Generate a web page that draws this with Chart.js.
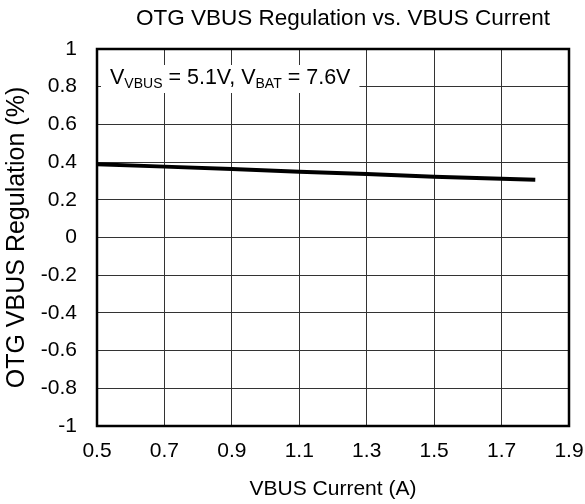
<!DOCTYPE html>
<html>
<head>
<meta charset="utf-8">
<script src="https://cdn.jsdelivr.net/npm/chart.js@4"></script>
<style>
html,body{margin:0;padding:0;background:#fff;}
#wrap{width:585px;height:504px;}
</style>
</head>
<body>
<div id="wrap"><canvas id="c" width="585" height="504"></canvas></div>
<script>
const currentA = [0.5, 0.7, 0.9, 1.1, 1.3, 1.5, 1.7, 1.8];
const regulationPct = [0.388, 0.376, 0.363, 0.349, 0.337, 0.322, 0.312, 0.307];
const xTickRange = [0.5, 1.9, 0.2];
const yTickRange = [-1, 1, 0.2];
const chartTitle = "OTG VBUS Regulation vs. VBUS Current";
const xTitle = "VBUS Current (A)";
const yTitle = "OTG VBUS Regulation (%)";
const noteParts = [["V", false], ["VBUS", true], [" = 5.1V, ", false], ["V", false], ["BAT", true], [" = 7.6V", false]];

const FONT = "'Liberation Sans', Arial, sans-serif";

const framePlugin = {
  id: 'frame',
  afterDatasetsDraw(chart) {
    const ctx = chart.ctx, a = chart.chartArea;
    ctx.save();
    // chart title
    ctx.font = "22.5px " + FONT;
    ctx.fillStyle = '#000';
    ctx.textAlign = 'center';
    ctx.textBaseline = 'middle';
    ctx.fillText(chartTitle, (a.left + a.right) / 2 + 10, a.top - 30);
    // annotation box
    ctx.textAlign = 'left';
    const mainF = 21.5, subF = 14;
    let w = 0;
    noteParts.forEach(([t, s]) => {
      ctx.font = (s ? subF : mainF) + "px " + FONT;
      w += ctx.measureText(t).width;
    });
    const bx = a.left + 4, by = a.top + 16, bh = 28, pad = 9;
    ctx.fillStyle = '#fff';
    ctx.fillRect(bx, by, w + pad * 2, bh);
    ctx.fillStyle = '#000';
    ctx.textBaseline = 'alphabetic';
    let x = bx + pad;
    const base = by + 19;
    noteParts.forEach(([t, s]) => {
      ctx.font = (s ? subF : mainF) + "px " + FONT;
      ctx.fillText(t, x, s ? base + 3.5 : base);
      x += ctx.measureText(t).width;
    });
    ctx.restore();
  },
  afterDraw(chart) {
    const ctx = chart.ctx, a = chart.chartArea;
    ctx.save();
    ctx.strokeStyle = '#000';
    ctx.lineWidth = 2.5;
    ctx.strokeRect(a.left, a.top, a.right - a.left, a.bottom - a.top);
    ctx.restore();
  }
};

const fmt = v => Number(Number(v).toFixed(1)).toString();

new Chart(document.getElementById('c'), {
  type: 'line',
  data: {
    datasets: [{
      data: currentA.map((x, i) => ({x: x, y: regulationPct[i]})),
      borderColor: '#000',
      borderWidth: 4,
      pointRadius: 0,
      tension: 0,
      fill: false
    }]
  },
  options: {
    responsive: false,
    animation: false,
    layout: {padding: {left: 0, right: 16, top: 49, bottom: 0}},
    plugins: {
      legend: {display: false},
      tooltip: {enabled: false},
      title: {display: false}
    },
    scales: {
      x: {
        type: 'linear',
        min: xTickRange[0], max: xTickRange[1],
        afterFit(s) { s.height = 78; s.paddingRight = 0; s.paddingLeft = 0; },
        grid: {color: '#333', lineWidth: 1, drawTicks: false},
        border: {display: false},
        ticks: {stepSize: xTickRange[2], color: '#000', padding: 13, maxRotation: 0,
          font: {family: FONT, size: 21}, callback: fmt},
        title: {display: true, text: xTitle, color: '#000',
          font: {family: FONT, size: 21}, padding: {top: 0, bottom: 2}}
      },
      y: {
        type: 'linear',
        min: yTickRange[0], max: yTickRange[1],
        afterFit(s) { s.width = 97; s.paddingTop = 0; s.paddingBottom = 0; },
        grid: {color: '#333', lineWidth: 1, drawTicks: false},
        border: {display: false},
        ticks: {stepSize: yTickRange[2], color: '#000', padding: 20,
          font: {family: FONT, size: 21}, callback: fmt},
        title: {display: true, text: yTitle, color: '#000',
          font: {family: FONT, size: 25}, padding: {top: 2, bottom: 0}}
      }
    }
  },
  plugins: [framePlugin]
});
</script>
</body>
</html>
